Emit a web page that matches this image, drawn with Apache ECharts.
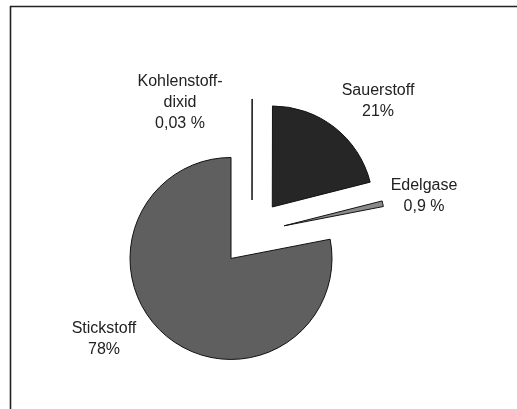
<!DOCTYPE html>
<html><head><meta charset="utf-8">
<script src="https://cdn.jsdelivr.net/npm/echarts@6/dist/echarts.min.js"></script>
<style>html,body{margin:0;padding:0;background:#fff}#c{width:517px;height:409px}</style>
</head><body><div id="c"></div>
<script>
var names = ['Kohlenstoff-\ndixid', 'Sauerstoff', 'Edelgase', 'Stickstoff'];
var values = [0.03, 21, 0.9, 78];
var valueLabels = ['0,03 %', '21%', '0,9 %', '78%'];
var colors = ['#555555', '#262626', '#8a8a8a', '#5f5f5f'];
var labelPos = [[180, 103], [378, 101], [424, 196], [104, 339]];

var chart = echarts.init(document.getElementById('c'), null, {renderer: 'canvas'});
var data = names.map(function (n, i) {
  return {name: n, value: values[i], selected: true, itemStyle: {color: colors[i]}};
});
var graphics = [
  {type: 'line', shape: {x1: 10, y1: 6.5, x2: 517, y2: 6.5}, style: {stroke: '#222', lineWidth: 1.6}},
  {type: 'line', shape: {x1: 10.5, y1: 6, x2: 10.5, y2: 409}, style: {stroke: '#222', lineWidth: 1.6}}
];
names.forEach(function (n, i) {
  graphics.push({
    type: 'text', x: labelPos[i][0], y: labelPos[i][1],
    style: {
      text: n + '\n' + valueLabels[i],
      fontFamily: 'Liberation Sans, Arial, sans-serif',
      fontSize: 16, lineHeight: 21, fill: '#222',
      align: 'center', verticalAlign: 'middle'
    }
  });
});
chart.setOption({
  animation: false,
  graphic: graphics,
  series: [{
    type: 'pie',
    center: [252, 233],
    radius: [0, 101],
    startAngle: 90,
    clockwise: true,
    minAngle: 0,
    selectedMode: 'multiple',
    selectedOffset: 33,
    emphasis: {disabled: true},
    itemStyle: {borderColor: '#111', borderWidth: 1},
    label: {show: false},
    labelLine: {show: false},
    data: data
  }]
});
</script></body></html>
